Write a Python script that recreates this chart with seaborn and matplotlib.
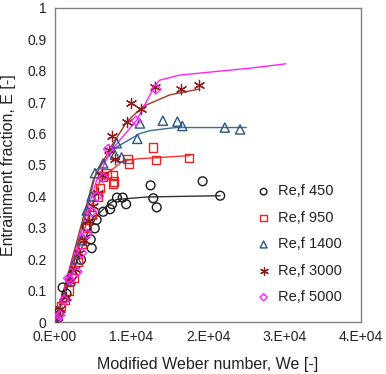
import matplotlib
matplotlib.use("Agg")
import matplotlib.pyplot as plt
import seaborn as sns
import pandas as pd

sns.set_style("white")
plt.rcParams['font.family'] = ['Liberation Sans', 'DejaVu Sans']

labels = ["Re,f 450", "Re,f 950", "Re,f 1400", "Re,f 3000", "Re,f 5000"]

# measured points
x450 = [500, 1000, 1500, 2300, 3400, 4140, 4670, 4800, 5200, 5450, 6300, 7200, 7450, 8100, 8850, 9300, 12500, 12850, 13300, 19300, 21600]
e450 = [0.03, 0.11, 0.09, 0.15, 0.198, 0.304, 0.263, 0.235, 0.298, 0.325, 0.351, 0.359, 0.375, 0.396, 0.396, 0.375, 0.435, 0.394, 0.365, 0.448, 0.402]

x950 = [300, 800, 1300, 1800, 2500, 3000, 3500, 4200, 4800, 5660, 5900, 6300, 6750, 7500, 7600, 7750, 9500, 9700, 12850, 13200, 17550]
e950 = [0.01, 0.05, 0.07, 0.10, 0.14, 0.19, 0.25, 0.30, 0.34, 0.40, 0.426, 0.463, 0.473, 0.468, 0.44, 0.447, 0.518, 0.505, 0.555, 0.516, 0.523]

x1400 = [400, 1200, 2000, 2800, 3500, 4140, 4800, 5230, 6300, 7840, 8700, 8060, 10760, 11100, 14100, 16000, 16650, 22200, 24200]
e1400 = [0.02, 0.08, 0.13, 0.20, 0.26, 0.355, 0.40, 0.474, 0.505, 0.532, 0.524, 0.569, 0.583, 0.632, 0.641, 0.638, 0.624, 0.619, 0.613]

x3000 = [200, 700, 1400, 2000, 2600, 3200, 3800, 4400, 5000, 5600, 6200, 7000, 7840, 7400, 9400, 10000, 11300, 13100, 16500, 18800]
e3000 = [0.0, 0.04, 0.08, 0.13, 0.17, 0.22, 0.26, 0.32, 0.37, 0.41, 0.468, 0.546, 0.518, 0.592, 0.638, 0.698, 0.677, 0.747, 0.742, 0.755]

x5000 = [300, 650, 1200, 1740, 2000, 2900, 3500, 4200, 4800, 5500, 6300, 6970, 10600, 13200]
e5000 = [0.01, 0.022, 0.07, 0.139, 0.134, 0.16, 0.22, 0.28, 0.351, 0.40, 0.46, 0.55, 0.64, 0.741]

# model curves
lx450 = [0, 2000, 4000, 5500, 7000, 8060, 12000, 21600]
le450 = [0, 0.14, 0.27, 0.34, 0.375, 0.39, 0.398, 0.402]
lx950 = [0, 3000, 5900, 7400, 8900, 11000, 13300, 17650]
le950 = [0, 0.23, 0.452, 0.484, 0.513, 0.52, 0.523, 0.53]
lx1400 = [0, 3000, 5450, 8060, 11100, 12400, 15000, 15900, 25000]
le1400 = [0, 0.25, 0.484, 0.557, 0.60, 0.609, 0.617, 0.619, 0.619]
lx3000 = [0, 3000, 5000, 7200, 9400, 11500, 15000, 18750]
le3000 = [0, 0.27, 0.452, 0.553, 0.638, 0.686, 0.723, 0.741]
lx5000 = [0, 3000, 5450, 7200, 10700, 13100, 13700, 16300, 25500, 30200]
le5000 = [0, 0.25, 0.452, 0.542, 0.643, 0.755, 0.77, 0.786, 0.808, 0.822]

xticks = [0, 10000, 20000, 30000, 40000]
xticklabels = ["0.E+00", "1.E+04", "2.E+04", "3.E+04", "4.E+04"]
yticks = [0, 0.1, 0.2, 0.3, 0.4, 0.5, 0.6, 0.7, 0.8, 0.9, 1]
yticklabels = ["0", "0.1", "0.2", "0.3", "0.4", "0.5", "0.6", "0.7", "0.8", "0.9", "1"]

pts = [(x450, e450), (x950, e950), (x1400, e1400), (x3000, e3000), (x5000, e5000)]
lines = [(lx450, le450), (lx950, le950), (lx1400, le1400), (lx3000, le3000), (lx5000, le5000)]

mcolors = ["#1a1a1a", "#ee2222", "#2c5585", "#8b1a1a", "#ff22ff"]
lcolors = ["#333333", "#ff3030", "#3d6a96", "#a0382e", "#ff22ff"]
markers = ["o", "s", "^", (6, 2, 0), "D"]
sizes = [40, 36, 44, 55, 24]

fig = plt.figure(figsize=(3.86, 3.74), dpi=100)
ax = fig.add_axes([0.1425, 0.139, 0.7925, 0.840])

for (lx, le), c in zip(lines, lcolors):
    df = pd.DataFrame({"x": lx, "y": le})
    sns.lineplot(data=df, x="x", y="y", ax=ax, color=c, lw=1.0, sort=False,
                 estimator=None, legend=False, zorder=2)

for (px, pe), lab, c, m, s in zip(pts, labels, mcolors, markers, sizes):
    df = pd.DataFrame({"x": px, "y": pe})
    if m == (6, 2, 0):
        sns.scatterplot(data=df, x="x", y="y", ax=ax, marker=m, s=s,
                        color=c, linewidth=0.9, label=lab, zorder=3)
    else:
        sns.scatterplot(data=df, x="x", y="y", ax=ax, marker=m, s=s,
                        facecolor="none", edgecolor=c, linewidth=1.0,
                        label=lab, zorder=3)

ax.set_xlim(0, 40000)
ax.set_ylim(0, 1)
ax.set_xticks(xticks)
ax.set_xticklabels(xticklabels)
ax.set_yticks(yticks)
ax.set_yticklabels(yticklabels)
ax.tick_params(direction="in", length=4, width=0.8, color="#777777",
               labelsize=10, labelcolor="#222222", pad=6)
for sp in ax.spines.values():
    sp.set_color("#808080")
    sp.set_linewidth(1.0)
ax.set_xlabel("Modified Weber number, We [-]", fontsize=11.5, color="#222222", labelpad=9)
ax.set_ylabel("Entrainment fraction, E [-]", fontsize=11.5, color="#222222", labelpad=8)

leg = ax.legend(loc="lower left", bbox_to_anchor=(0.62, 0.02), frameon=False,
                fontsize=10.5, markerscale=0.75, handlelength=1.0,
                handletextpad=0.5, labelspacing=0.85, borderpad=0.3)
for t in leg.get_texts():
    t.set_color("#222222")

fig.savefig("out.png", dpi=100)
